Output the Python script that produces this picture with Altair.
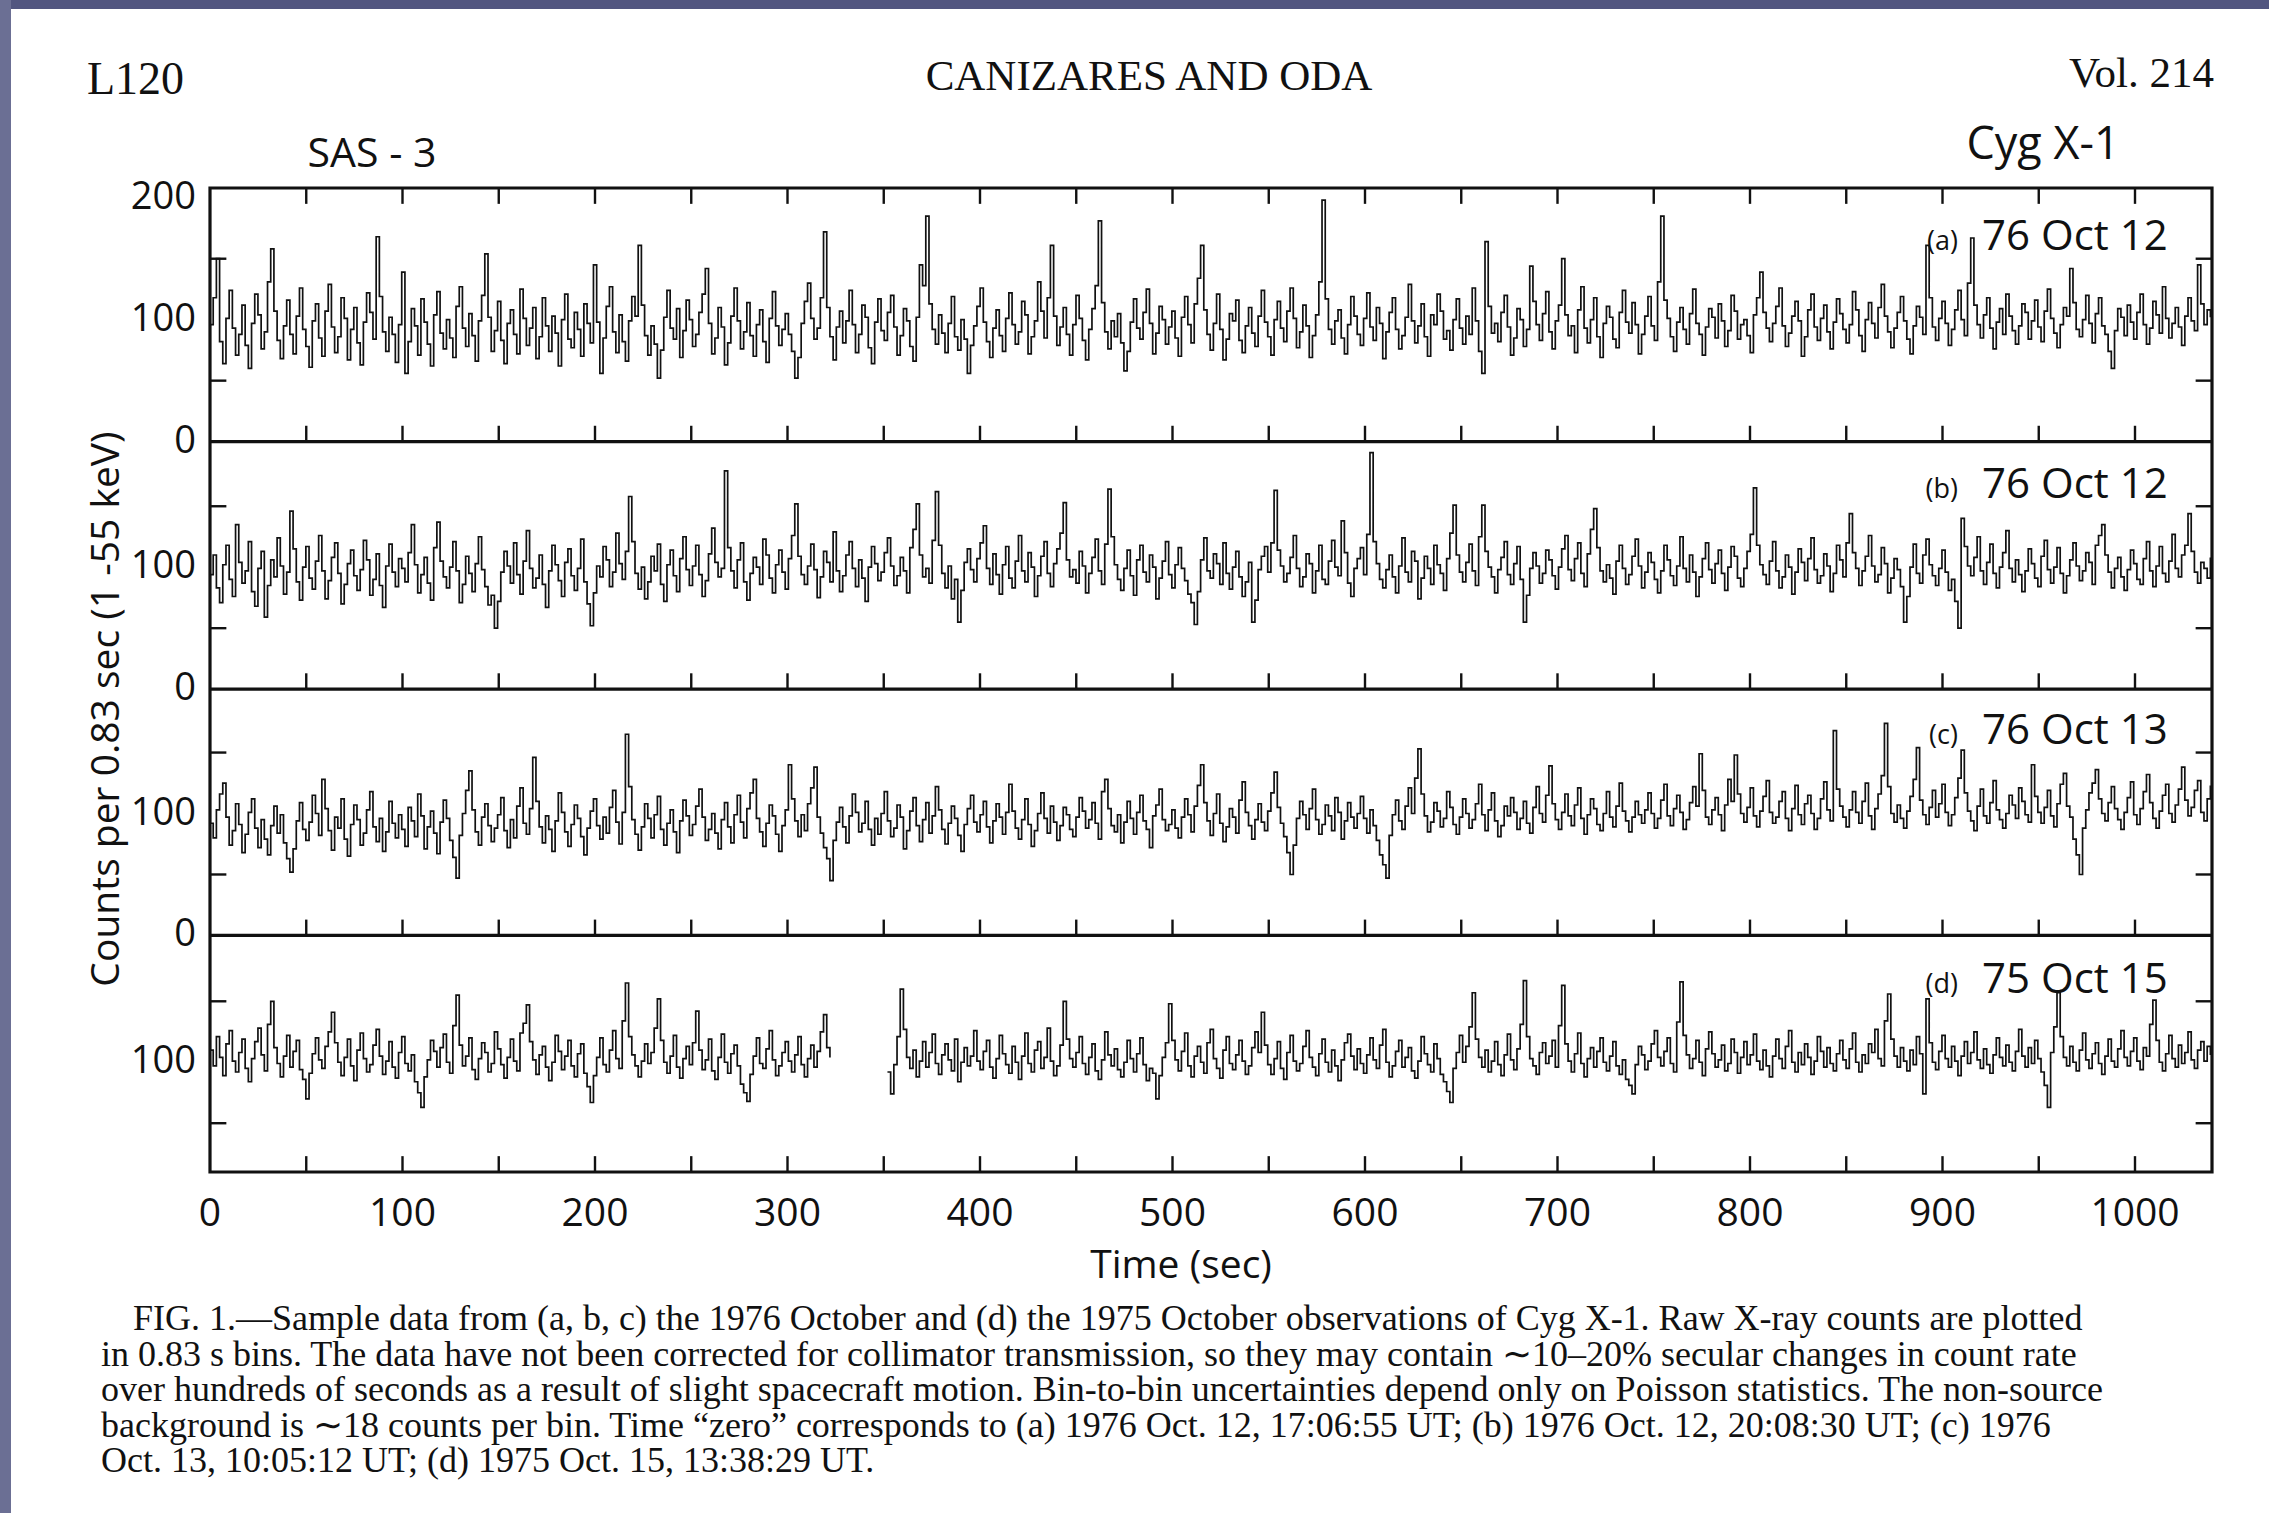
import altair as alt
import pandas as pd

# ---------------------------------------------------------------------------
# SAS-3 light curves of Cyg X-1: raw counts per 0.83 s bin, four observations.
# Each series is sampled every second bin (1.66 s).
# ---------------------------------------------------------------------------
BIN_SEC = 0.83
BINS_PER_SAMPLE = 2
SAMPLE_SEC = BIN_SEC * BINS_PER_SAMPLE
T_MAX = 1040

COUNTS_A = [
    96, 118, 150, 82, 64, 101, 124, 93, 71, 88, 112, 79, 60, 97, 121, 104, 76, 90, 131, 158, 107, 83, 68, 95, 116, 88, 72, 103, 126, 92,
    78, 61, 99, 113, 85, 70, 107, 129, 94, 73, 86, 118, 101, 67, 92, 110, 81, 63, 98, 122, 106, 84, 168, 119, 90, 74, 102, 88, 65, 96,
    139, 56, 82, 109, 95, 71, 117, 98, 80, 62, 104, 123, 89, 76, 100, 85, 69, 111, 127, 93, 78, 105, 87, 66, 99, 120, 154, 102, 74, 91,
    115, 83, 64, 97, 108, 88, 72, 125, 101, 79, 93, 110, 68, 86, 118, 95, 74, 103, 89, 62, 100, 121, 84, 77, 106, 92, 70, 113, 97, 81,
    145, 98, 56, 85, 111, 127, 90, 73, 104, 82, 66, 99, 119, 103, 161, 112, 87, 71, 95, 80, 52, 75, 102, 124, 93, 84, 109, 69, 91, 116,
    100, 78, 88, 106, 121, 142, 97, 72, 85, 110, 94, 63, 81, 103, 126, 99, 76, 90, 114, 87, 70, 96, 108, 82, 65, 101, 123, 95, 79, 92,
    105, 88, 74, 52, 69, 97, 115, 130, 101, 84, 93, 118, 172, 110, 86, 67, 94, 107, 81, 99, 124, 96, 73, 88, 112, 102, 77, 64, 98, 117,
    91, 83, 106, 120, 94, 71, 87, 109, 99, 78, 66, 102, 145, 128, 185, 113, 92, 80, 104, 89, 73, 97, 119, 86, 75, 100, 84, 56, 79, 95,
    111, 126, 98, 82, 69, 93, 108, 87, 74, 101, 122, 96, 80, 90, 115, 104, 72, 86, 99, 131, 107, 85, 118, 161, 103, 79, 94, 110, 88, 71,
    96, 120, 101, 83, 67, 92, 109, 128, 181, 114, 90, 76, 99, 86, 105, 81, 58, 74, 98, 117, 93, 84, 106, 125, 97, 72, 89, 111, 100, 80,
    94, 107, 85, 70, 102, 119, 96, 81, 113, 134, 161, 108, 88, 75, 97, 121, 92, 67, 84, 105, 99, 116, 83, 73, 95, 110, 89, 78, 103, 124,
    98, 86, 71, 100, 115, 93, 82, 107, 126, 101, 77, 90, 112, 95, 69, 87, 104, 131, 198, 117, 92, 80, 99, 108, 85, 72, 96, 119, 103, 88,
    79, 101, 122, 94, 83, 110, 97, 68, 90, 106, 118, 92, 76, 87, 102, 129, 99, 81, 95, 113, 86, 70, 104, 96, 121, 107, 84, 91, 75, 100,
    117, 93, 80, 103, 88, 126, 99, 74, 56, 164, 111, 89, 97, 82, 106, 120, 94, 71, 85, 109, 100, 78, 92, 144, 115, 96, 83, 105, 123, 90,
    76, 99, 112, 150, 104, 87, 95, 73, 108, 127, 93, 81, 100, 118, 86, 69, 97, 111, 102, 84, 77, 106, 124, 98, 89, 114, 96, 72, 88, 103,
    119, 95, 83, 131, 185, 116, 101, 86, 74, 98, 110, 92, 80, 105, 125, 97, 88, 71, 94, 109, 102, 85, 113, 99, 78, 91, 120, 107, 84, 96,
    100, 87, 73, 104, 118, 139, 106, 93, 82, 97, 111, 126, 95, 78, 89, 103, 115, 99, 70, 86, 108, 121, 94, 83, 101, 112, 90, 76, 98, 117,
    105, 92, 81, 96, 123, 108, 87, 74, 100, 114, 97, 85, 110, 129, 103, 90, 77, 93, 106, 119, 99, 84, 72, 95, 111, 102, 88, 161, 118, 94,
    83, 101, 115, 97, 79, 92, 108, 124, 100, 87, 130, 167, 112, 96, 85, 104, 118, 93, 76, 98, 109, 88, 121, 103, 91, 80, 95, 113, 106, 84,
    99, 116, 94, 82, 107, 125, 101, 89, 77, 96, 110, 103, 142, 114, 92, 86, 100, 120, 97, 81, 105, 118, 95, 88, 74, 60, 91, 109, 102, 87,
    112, 98, 84, 106, 121, 96, 80, 93, 115, 104, 89, 127, 101, 85, 97, 110, 94, 79, 103, 118, 99, 91, 145, 113, 96, 108, 102,
]

COUNTS_B = [
    94, 110, 83, 71, 102, 118, 90, 76, 135, 104, 87, 97, 121, 80, 68, 99, 113, 59, 85, 106, 92, 124, 101, 78, 96, 146, 115, 88, 73, 100,
    117, 91, 82, 105, 126, 97, 74, 89, 108, 120, 95, 70, 86, 103, 114, 93, 81, 98, 122, 106, 77, 90, 111, 85, 67, 101, 119, 96, 84, 107,
    99, 88, 112, 135, 102, 79, 94, 108, 87, 73, 116, 137, 105, 92, 83, 100, 121, 97, 71, 86, 109, 95, 80, 103, 125, 98, 84, 69, 77, 50,
    72, 96, 113, 101, 87, 120, 94, 78, 105, 130, 99, 83, 91, 110, 86, 67, 97, 118, 102, 89, 76, 104, 115, 93, 81, 99, 123, 88, 70, 52,
    79, 101, 92, 117, 106, 84, 96, 128, 103, 90, 113, 158, 121, 95, 82, 100, 74, 88, 109, 97, 119, 86, 72, 102, 114, 93, 80, 107, 125, 98,
    85, 101, 118, 94, 76, 89, 111, 132, 104, 92, 99, 179, 116, 97, 83, 106, 120, 88, 73, 95, 108, 100, 86, 123, 110, 91, 79, 102, 114, 96,
    82, 107, 126, 152, 109, 94, 86, 101, 119, 98, 75, 92, 113, 104, 88, 129, 97, 80, 93, 110, 121, 99, 84, 106, 91, 72, 100, 117, 103, 89,
    96, 112, 124, 101, 85, 93, 108, 97, 79, 116, 131, 152, 110, 92, 99, 87, 122, 162, 118, 95, 83, 101, 74, 90, 55, 81, 104, 115, 98, 88,
    107, 120, 134, 99, 86, 111, 94, 78, 102, 117, 91, 83, 105, 126, 97, 88, 112, 100, 76, 93, 109, 121, 95, 84, 103, 115, 128, 153, 106, 92,
    98, 87, 113, 101, 79, 95, 108, 123, 97, 86, 119, 164, 125, 102, 90, 81, 99, 114, 93, 77, 106, 118, 96, 88, 110, 100, 74, 91, 105, 121,
    94, 83, 102, 116, 99, 89, 78, 71, 53, 80, 106, 124, 97, 91, 111, 103, 86, 120, 95, 82, 100, 113, 92, 76, 88, 104, 55, 73, 98, 109,
    117, 96, 120, 163, 114, 101, 88, 95, 108, 126, 99, 84, 92, 111, 103, 79, 97, 118, 90, 86, 105, 122, 100, 93, 138, 112, 87, 76, 99, 107,
    116, 94, 127, 194, 121, 103, 90, 83, 98, 110, 92, 79, 101, 124, 96, 88, 113, 105, 74, 91, 109, 99, 86, 118, 102, 95, 81, 107, 128, 151,
    110, 96, 88, 104, 119, 97, 85, 125, 151, 113, 100, 92, 79, 98, 108, 121, 94, 86, 103, 117, 90, 55, 77, 99, 112, 101, 87, 95, 114, 106,
    93, 82, 100, 115, 126, 98, 89, 107, 120, 95, 84, 111, 131, 148, 116, 97, 88, 102, 91, 78, 105, 118, 99, 86, 94, 109, 123, 101, 83, 96,
    112, 104, 90, 79, 97, 118, 106, 93, 85, 101, 125, 99, 88, 110, 96, 76, 92, 107, 120, 98, 87, 103, 114, 95, 81, 100, 117, 109, 91, 84,
    99, 113, 127, 165, 118, 102, 94, 86, 105, 121, 97, 83, 92, 110, 100, 78, 96, 115, 104, 89, 107, 124, 98, 87, 93, 111, 101, 80, 95, 118,
    106, 92, 120, 144, 112, 99, 85, 97, 109, 126, 101, 88, 94, 116, 103, 79, 91, 107, 98, 84, 55, 76, 100, 119, 95, 87, 110, 123, 102, 93,
    85, 99, 114, 96, 81, 90, 72, 50, 140, 117, 101, 93, 108, 125, 97, 86, 104, 119, 95, 83, 100, 112, 130, 99, 88, 106, 94, 80, 97, 115,
    103, 91, 84, 109, 122, 98, 87, 100, 116, 95, 79, 93, 106, 120, 101, 89, 97, 112, 104, 86, 118, 126, 135, 110, 96, 83, 99, 108, 92, 81,
    98, 114, 103, 90, 86, 107, 121, 97, 84, 101, 117, 95, 88, 105, 127, 99, 92, 110, 118, 144, 113, 96, 87, 104, 99, 91, 108,
]

COUNTS_C = [
    92, 80, 103, 116, 125, 97, 74, 86, 108, 91, 68, 83, 101, 112, 88, 72, 95, 79, 66, 90, 106, 84, 99, 76, 63, 52, 71, 94, 109, 87,
    78, 93, 115, 100, 82, 128, 104, 86, 70, 97, 88, 112, 79, 65, 91, 107, 95, 74, 84, 103, 118, 89, 77, 96, 69, 85, 110, 92, 80, 99,
    87, 73, 105, 94, 81, 116, 98, 71, 89, 102, 84, 67, 93, 111, 96, 78, 64, 47, 82, 100, 119, 135, 103, 85, 74, 97, 108, 90, 77, 88,
    99, 113, 86, 72, 95, 80, 106, 121, 92, 83, 104, 146, 110, 89, 76, 98, 87, 69, 94, 117, 101, 85, 73, 91, 107, 96, 81, 66, 88, 102,
    112, 90, 79, 97, 84, 105, 119, 93, 75, 101, 165, 122, 95, 83, 70, 89, 108, 96, 80, 99, 114, 87, 74, 92, 103, 85, 68, 94, 111, 98,
    82, 91, 106, 120, 97, 78, 87, 100, 84, 71, 95, 109, 89, 76, 99, 115, 93, 80, 104, 117, 128, 96, 85, 73, 92, 107, 98, 83, 69, 90,
    103, 140, 112, 94, 81, 99, 86, 108, 121, 138, 97, 84, 72, 63, 45, 78, 93, 105, 89, 76, 98, 116, 101, 85, 92, 110, 87, 74, 96, 83,
    100, 118, 94, 81, 88, 107, 97, 71, 86, 102, 113, 90, 77, 95, 109, 84, 98, 122, 103, 87, 75, 92, 106, 96, 82, 69, 91, 104, 115, 93,
    85, 99, 110, 89, 76, 94, 108, 97, 83, 101, 124, 102, 88, 79, 95, 112, 91, 73, 86, 100, 117, 96, 84, 106, 93, 78, 90, 105, 99, 87,
    81, 97, 113, 102, 88, 95, 109, 92, 79, 118, 128, 104, 90, 85, 99, 76, 93, 110, 96, 83, 101, 115, 94, 87, 72, 98, 107, 120, 95, 86,
    91, 103, 88, 80, 97, 112, 99, 85, 106, 123, 140, 109, 94, 82, 100, 116, 92, 77, 89, 104, 97, 84, 111, 126, 101, 90, 79, 95, 108, 93,
    86, 102, 117, 134, 105, 92, 81, 68, 50, 74, 96, 110, 99, 87, 104, 120, 95, 83, 91, 107, 98, 86, 113, 101, 79, 94, 109, 97, 88, 100,
    114, 96, 84, 103, 90, 78, 66, 58, 47, 82, 99, 111, 94, 87, 106, 121, 100, 129, 153, 116, 98, 85, 93, 109, 102, 89, 96, 118, 105, 91,
    83, 97, 112, 100, 88, 95, 108, 124, 99, 86, 103, 117, 94, 81, 90, 106, 98, 113, 101, 87, 96, 110, 92, 84, 105, 122, 100, 93, 115, 139,
    108, 95, 87, 101, 116, 98, 90, 107, 121, 96, 83, 99, 112, 104, 91, 86, 100, 118, 97, 89, 106, 125, 102, 94, 85, 97, 110, 99, 92, 103,
    117, 100, 88, 96, 111, 124, 98, 90, 104, 115, 101, 87, 95, 109, 122, 106, 149, 119, 97, 91, 103, 113, 99, 86, 107, 128, 110, 148, 116, 100,
    93, 105, 121, 98, 89, 102, 114, 127, 101, 92, 97, 110, 118, 96, 86, 104, 123, 99, 91, 108, 115, 100, 87, 96, 112, 126, 103, 94, 168, 120,
    106, 97, 89, 103, 118, 101, 92, 110, 125, 98, 87, 104, 116, 131, 174, 122, 100, 93, 107, 96, 88, 102, 114, 128, 154, 111, 99, 91, 105, 119,
    97, 108, 124, 101, 90, 99, 113, 129, 152, 117, 102, 94, 86, 106, 120, 98, 92, 109, 127, 103, 95, 88, 100, 115, 107, 96, 121, 110, 99, 93,
    140, 114, 101, 92, 105, 119, 98, 89, 108, 124, 133, 106, 97, 79, 66, 50, 88, 103, 117, 125, 136, 112, 100, 94, 109, 122, 104, 95, 87, 101,
    113, 126, 99, 91, 104, 118, 132, 109, 96, 88, 102, 115, 124, 100, 93, 107, 120, 138, 111, 98, 105, 119, 127, 101, 94, 112, 123,
]

# Observation (d) has a telemetry gap between roughly 323 s and 352 s.
COUNTS_D_EARLY = [
    110, 97, 121, 104, 89, 115, 126, 101, 92, 108, 119, 95, 84, 103, 117, 128, 106, 93, 131, 150, 112, 99, 88, 105, 122, 96, 109, 118, 94, 86,
    70, 91, 107, 120, 102, 95, 113, 125, 141, 116, 100, 89, 104, 119, 97, 85, 110, 124, 103, 92, 98, 114, 127, 105, 90, 101, 117, 96, 87, 108,
    121, 99, 93, 106, 84, 75, 63, 88, 102, 118, 109, 96, 112, 123, 100, 91, 130, 155, 114, 97, 105, 120, 94, 86, 103, 116, 108, 92, 99, 125,
    111, 98, 87, 104, 119, 101, 93, 124, 132, 147, 117, 102, 90, 106, 113, 96, 85, 100, 122, 109, 94, 105, 118, 97, 88, 107, 115, 91, 80, 67,
    89, 104, 120, 98, 92, 110, 126, 103, 95, 134, 165, 121, 106, 97, 88, 101, 115, 99, 108, 128, 152, 118, 100, 91, 105, 122, 96, 87, 103, 113,
    98, 116, 142, 110, 94, 102, 119, 93, 86, 104, 123, 100, 91, 107, 114, 97, 82, 75, 68, 90, 105, 120, 99, 95, 111, 126, 102, 89, 97, 108,
    117, 101, 92, 106, 121, 98, 88, 103, 114, 96, 109, 125, 139, 112, 104,
]
D_LATE_FIRST_SAMPLE = 212
COUNTS_D_LATE = [
    92, 74, 98, 121, 160, 127, 104, 95, 110, 88, 101, 117, 96, 108, 123, 99, 90, 106, 115, 102, 93, 119, 84, 100, 112, 97, 105, 126,
    101, 94, 109, 118, 96, 87, 103, 122, 107, 98, 91, 113, 100, 86, 105, 124, 99, 92, 110, 117, 95, 104, 128, 101, 89, 97, 114, 150, 119, 103,
    96, 108, 121, 99, 90, 104, 115, 93, 86, 102, 125, 106, 97, 111, 94, 88, 100, 118, 103, 92, 107, 120, 98, 85, 95, 91, 70, 89, 104, 116,
    148, 118, 102, 93, 109, 124, 97, 88, 105, 113, 100, 91, 116, 127, 103, 95, 87, 110, 121, 99, 94, 106, 118, 101, 90, 97, 112, 125, 108, 141,
    114, 98, 90, 103, 117, 95, 86, 108, 122, 101, 93, 99, 113, 126, 104, 96, 89, 107, 119, 100, 92, 110, 97, 85, 102, 116, 123, 105, 94, 111,
    99, 91, 106, 120, 102, 95, 114, 127, 100, 88, 97, 109, 118, 96, 104, 112, 93, 87, 101, 121, 107, 98, 92, 115, 103, 90, 84, 76, 67, 95,
    108, 122, 100, 113, 129, 157, 119, 104, 96, 110, 92, 101, 117, 98, 89, 106, 123, 102, 94, 111, 131, 167, 121, 103, 97, 90, 108, 116, 99, 105,
    118, 96, 130, 163, 115, 101, 92, 107, 124, 99, 88, 103, 112, 96, 109, 120, 100, 93, 105, 117, 97, 90, 102, 86, 81, 74, 98, 113, 106, 94,
    101, 115, 126, 104, 97, 109, 120, 99, 92, 133, 166, 122, 106, 95, 103, 118, 100, 89, 111, 125, 107, 96, 102, 114, 93, 99, 119, 108, 91, 104,
    117, 98, 106, 123, 101, 94, 110, 97, 88, 105, 119, 103, 95, 113, 126, 100, 92, 108, 98, 115, 104, 90, 101, 121, 109, 96, 112, 99, 93, 107,
    118, 102, 95, 111, 124, 100, 92, 106, 99, 115, 108, 127, 103, 97, 134, 156, 119, 105, 96, 112, 101, 93, 110, 98, 121, 107, 74, 152, 116, 100,
    94, 109, 122, 103, 96, 113, 101, 89, 105, 117, 99, 108, 125, 102, 95, 111, 98, 91, 106, 120, 104, 97, 114, 100, 93, 109, 127, 105, 96, 112,
    99, 118, 103, 92, 81, 63, 108, 129, 157, 121, 104, 97, 113, 100, 93, 110, 124, 102, 95, 107, 116, 99, 90, 105, 119, 101, 96, 111, 126, 104,
    97, 109, 120, 101, 94, 112, 105, 131, 151, 118, 100, 93, 107, 122, 103, 96, 114, 99, 108, 125, 102, 95, 110, 117, 101, 113, 106,
]

PANEL_IDS = ["a", "b", "c", "d"]
PANEL_TAGS = ["(a)", "(b)", "(c)", "(d)"]
PANEL_DATES = ["76 Oct 12", "76 Oct 12", "76 Oct 13", "75 Oct 15"]
# count range shown in each panel (bottom, top)
PANEL_RANGE = {"a": (0, 208), "b": (0, 203), "c": (0, 202), "d": (10, 204)}
Y_TICK_LABELS = {"a": [0, 100, 200], "b": [0, 100], "c": [0, 100], "d": [100]}
Y_MINOR_COUNTS = [50, 150]
X_LABEL_TIMES = list(range(0, 1001, 100))
X_TICK_TIMES = list(range(50, 1001, 50))

HEADER_LEFT = ["L120"]
HEADER_MID = ["CANIZARES AND ODA"]
HEADER_RIGHT = ["Vol. 214"]
INSTRUMENT = ["SAS - 3"]
SOURCE = ["Cyg X-1"]
Y_TITLE = ["Counts per 0.83 sec  (1 -55 keV)"]
X_TITLE = ["Time (sec)"]
CAPTION_FIRST = ["FIG. 1.\u2014Sample data from (a, b, c) the 1976 October and (d) the 1975 October observations of Cyg X-1. Raw X-ray counts are plotted"]
CAPTION_REST = [
    "in 0.83 s bins. The data have not been corrected for collimator transmission, so they may contain \u223c10\u201320% secular changes in count rate",
    "over hundreds of seconds as a result of slight spacecraft motion. Bin-to-bin uncertainties depend only on Poisson statistics. The non-source",
    "background is \u223c18 counts per bin. Time \u201czero\u201d corresponds to (a) 1976 Oct. 12, 17:06:55 UT; (b) 1976 Oct. 12, 20:08:30 UT; (c) 1976",
    "Oct. 13, 10:05:12 UT; (d) 1975 Oct. 15, 13:38:29 UT.",
]

SANS = "Open Sans"
SERIF = "Liberation Serif"
INK = "#111111"

# ---- stack the four panels on one shared vertical scale -------------------
offset = {}
level = 0
for p in reversed(PANEL_IDS):
    lo, hi = PANEL_RANGE[p]
    offset[p] = level - lo
    level += hi - lo
Y_TOP = level
panel_floor = {p: offset[p] + PANEL_RANGE[p][0] for p in PANEL_IDS}

rows = []


def add_series(panel, seg, first_sample, counts):
    for k, c in enumerate(counts):
        rows.append({"panel": panel, "seg": seg, "t": (first_sample + k) * SAMPLE_SEC,
                     "count": c, "offset": offset[panel]})


add_series("a", "a", 0, COUNTS_A)
add_series("b", "b", 0, COUNTS_B)
add_series("c", "c", 0, COUNTS_C)
add_series("d", "d1", 0, COUNTS_D_EARLY)
add_series("d", "d2", D_LATE_FIRST_SAMPLE, COUNTS_D_LATE)
series = pd.DataFrame(rows)

x_scale = alt.Scale(domain=[0, T_MAX], nice=False, zero=False)
y_scale = alt.Scale(domain=[0, Y_TOP], nice=False, zero=False)
X_NOAXIS = dict(scale=x_scale, axis=None)
Y_NOAXIS = dict(scale=y_scale, axis=None)

trace = alt.Chart(series).transform_calculate(
    ys="datum.count + datum.offset"
).mark_line(interpolate="step-after", color=INK, strokeWidth=1.7).encode(
    x=alt.X("t:Q", **X_NOAXIS),
    y=alt.Y("ys:Q", **Y_NOAXIS),
    detail="seg:N",
)

# ---- frame: panel separators and inward ticks ------------------------------
TICK_UNITS = 13
SIDE_TICK_SEC = 8.5
edge_rows = []
for p in PANEL_IDS:
    for t in X_TICK_TIMES:
        edge_rows.append({"t": t, "y1": panel_floor[p], "y2": panel_floor[p] + TICK_UNITS})
for t in X_TICK_TIMES:
    edge_rows.append({"t": t, "y1": Y_TOP, "y2": Y_TOP - TICK_UNITS})
edge_ticks = alt.Chart(pd.DataFrame(edge_rows)).mark_rule(color=INK, strokeWidth=2.4).encode(
    x=alt.X("t:Q", **X_NOAXIS),
    y=alt.Y("y1:Q", **Y_NOAXIS),
    y2="y2:Q",
)

side_rows = []
for p in PANEL_IDS:
    for c in Y_MINOR_COUNTS:
        y = offset[p] + c
        side_rows.append({"x1": 0, "x2": SIDE_TICK_SEC, "y": y})
        side_rows.append({"x1": T_MAX - SIDE_TICK_SEC, "x2": T_MAX, "y": y})
side_ticks = alt.Chart(pd.DataFrame(side_rows)).mark_rule(color=INK, strokeWidth=2.4).encode(
    x=alt.X("x1:Q", **X_NOAXIS),
    x2="x2:Q",
    y=alt.Y("y:Q", **Y_NOAXIS),
)

separators = alt.Chart(
    pd.DataFrame({"y": [panel_floor[p] for p in PANEL_IDS if panel_floor[p] > 0],
                  "x1": 0, "x2": T_MAX})
).mark_rule(color=INK, strokeWidth=3.2).encode(
    x=alt.X("x1:Q", **X_NOAXIS),
    x2="x2:Q",
    y=alt.Y("y:Q", **Y_NOAXIS),
)

# ---- axis numbers -------------------------------------------------------------
x_labels = alt.Chart(pd.DataFrame({"t": X_LABEL_TIMES, "s": [str(v) for v in X_LABEL_TIMES]})).mark_text(
    font=SANS, fontSize=39, color=INK, align="center", baseline="middle"
).encode(x=alt.X("t:Q", **X_NOAXIS), y=alt.value(1026), text="s:N")

y_rows = [{"y": offset[p] + v, "s": str(v)} for p in PANEL_IDS for v in Y_TICK_LABELS[p]]
y_labels = alt.Chart(pd.DataFrame(y_rows)).mark_text(
    font=SANS, fontSize=38, color=INK, align="right", baseline="middle"
).encode(x=alt.value(-14), y=alt.Y("y:Q", **Y_NOAXIS), text="s:N")

# ---- panel labels -------------------------------------------------------------
label_df = pd.DataFrame({
    "tag": PANEL_TAGS,
    "date": PANEL_DATES,
    "y": [offset[p] + 157 for p in PANEL_IDS],
    "t_date": 1017,
    "t_tag": 908,
})
dates = alt.Chart(label_df).mark_text(
    font=SANS, fontSize=42, color=INK, align="right", baseline="alphabetic"
).encode(x=alt.X("t_date:Q", **X_NOAXIS), y=alt.Y("y:Q", **Y_NOAXIS), text="date:N")
tags = alt.Chart(label_df).mark_text(
    font=SANS, fontSize=27, color=INK, align="right", baseline="alphabetic"
).encode(x=alt.X("t_tag:Q", **X_NOAXIS), y=alt.Y("y:Q", **Y_NOAXIS), text="tag:N")


# ---- page furniture: running head, titles, figure legend --------------------
def page_text(values, x, y, font, size, align="left", baseline="alphabetic", **kw):
    return alt.Chart(pd.DataFrame({"s": values})).mark_text(
        font=font, fontSize=size, color=INK, align=align, baseline=baseline, **kw
    ).encode(x=alt.value(x), y=alt.value(y), text="s:N")


head_left = page_text(HEADER_LEFT, -123, -94, SERIF, 46)
head_mid = page_text(HEADER_MID, 939, -98, SERIF, 43, align="center")
head_right = page_text(HEADER_RIGHT, 2004, -101, SERIF, 43, align="right")
instrument = page_text(INSTRUMENT, 162, -33, SANS, 41, align="center", baseline="middle")
source = page_text(SOURCE, 1833, -43, SANS, 45, align="center", baseline="middle")
x_title = page_text(X_TITLE, 971, 1078, SANS, 39, align="center", baseline="middle")
y_title = page_text(Y_TITLE, -103, 521, SANS, 39, align="center", baseline="middle", angle=270)
caption_first = page_text(CAPTION_FIRST, -77, 1142, SERIF, 36)
caption_rest = alt.Chart(pd.DataFrame({"k": [0]})).mark_text(
    font=SERIF, fontSize=36, color=INK, align="left", baseline="alphabetic", lineHeight=35.5
).encode(x=alt.value(-109), y=alt.value(1177.5), text=alt.value(CAPTION_REST))

# scanned page edge along the top and left
edge_df = pd.DataFrame({"k": [0]})
scan_top = alt.Chart(edge_df).mark_rect(color="#525680").encode(
    x=alt.value(-210), x2=alt.value(2059), y=alt.value(-188), y2=alt.value(-179))
scan_left = alt.Chart(edge_df).mark_rect(color="#6b6f94").encode(
    x=alt.value(-210), x2=alt.value(-199), y=alt.value(-188), y2=alt.value(1325))

chart = alt.layer(
    scan_top, scan_left,
    trace, edge_ticks, side_ticks, separators, x_labels, y_labels, dates, tags,
    head_left, head_mid, head_right, instrument, source, x_title, y_title,
    caption_first, caption_rest,
).properties(
    width=2002, height=984,
    autosize=alt.AutoSizeParams(type="none"),
    padding={"left": 210, "top": 188, "right": 57, "bottom": 341},
    background="white",
).configure_view(stroke=INK, strokeWidth=3.2)

chart.save("out.html", embed_options={"renderer": "svg", "actions": False})
